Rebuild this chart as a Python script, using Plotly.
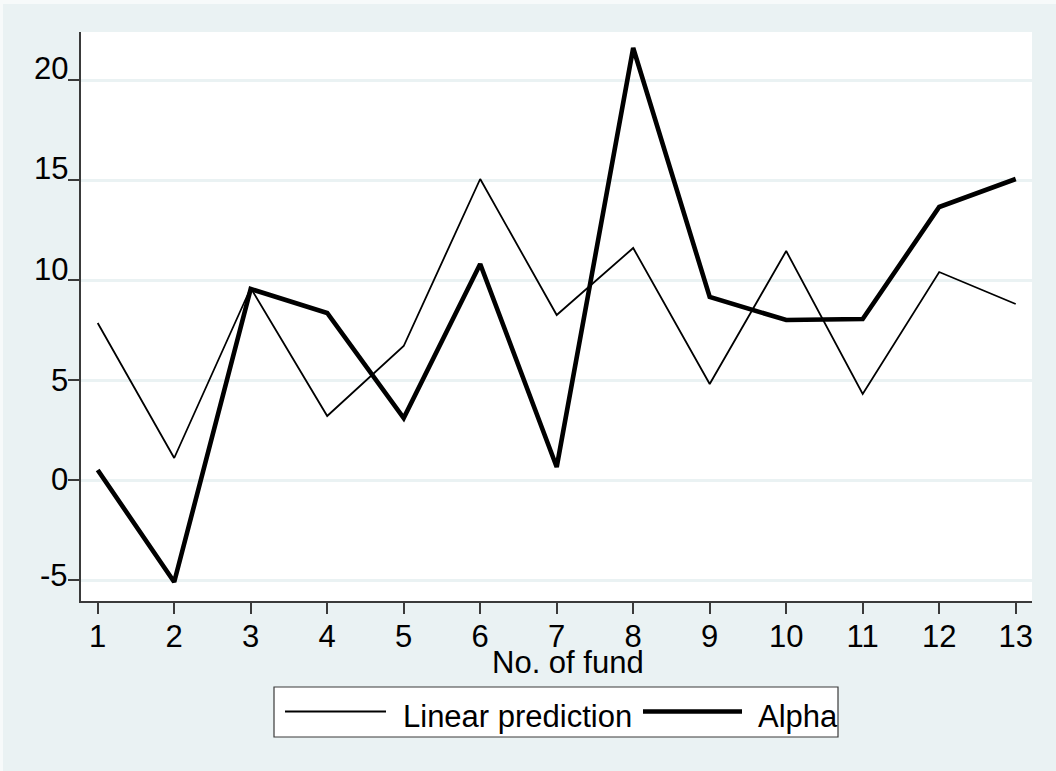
import plotly.graph_objects as go

# ---- data -------------------------------------------------------------
funds = list(range(1, 14))
linear_prediction = [7.85, 1.1, 9.6, 3.2, 6.7, 15.05, 8.25, 11.6, 4.8, 11.45, 4.3, 10.4, 8.8]
alpha = [0.5, -5.1, 9.55, 8.35, 3.1, 10.8, 0.65, 21.6, 9.15, 8.0, 8.05, 13.65, 15.05]
series_names = ["Linear prediction", "Alpha"]
y_ticks = [-5, 0, 5, 10, 15, 20]
y_tick_text = ["-5", "0", "5", "10", "15", "20"]
x_title = "No. of fund"

# ---- geometry / style -------------------------------------------------
W, H = 1056, 771
M_L, M_R, M_T, M_B = 81, 24, 32, 170
PLOT_W = W - M_L - M_R
PLOT_H = H - M_T - M_B

BG = "#EAF2F3"
AXIS = "#3a3a3a"
FONT = "Liberation Sans, Arial, Helvetica, sans-serif"
TICK_FS = 31
TEXT_FS = 31
THIN, THICK = 1.8, 4.6
# vertical nudges (px) of the y tick labels, same order as y_tick_text
y_label_lift = [5, 1, 0, 11, 12, 12]


def px_x(px):
    return (px - M_L) / PLOT_W


def px_y(py):
    return (H - M_B - py) / PLOT_H


fig = go.Figure()
fig.add_trace(go.Scatter(x=funds, y=linear_prediction, mode="lines",
                         name=series_names[0],
                         line=dict(color="black", width=THIN)))
fig.add_trace(go.Scatter(x=funds, y=alpha, mode="lines",
                         name=series_names[1],
                         line=dict(color="black", width=THICK)))

shapes = [
    # thin light border of the graph region
    dict(type="rect", xref="paper", yref="paper",
         x0=px_x(0), x1=px_x(W), y0=px_y(0), y1=px_y(4),
         fillcolor="#F7FAFA", line=dict(width=0), layer="above"),
    dict(type="rect", xref="paper", yref="paper",
         x0=px_x(0), x1=px_x(3), y0=px_y(0), y1=px_y(H),
         fillcolor="#F7FAFA", line=dict(width=0), layer="above"),
    # legend box
    dict(type="rect", xref="paper", yref="paper",
         x0=px_x(274), x1=px_x(838), y0=px_y(687), y1=px_y(737),
         fillcolor="white", line=dict(color=AXIS, width=1.2), layer="above"),
    # legend keys
    dict(type="line", xref="paper", yref="paper",
         x0=px_x(285), x1=px_x(386), y0=px_y(711.5), y1=px_y(711.5),
         line=dict(color="black", width=THIN), layer="above"),
    dict(type="line", xref="paper", yref="paper",
         x0=px_x(643), x1=px_x(742), y0=px_y(711.5), y1=px_y(711.5),
         line=dict(color="black", width=THICK), layer="above"),
]

annotations = []
# y tick labels
for val, txt, lift in zip(y_ticks, y_tick_text, y_label_lift):
    annotations.append(dict(
        x=0, xref="paper", y=val, yref="y", text=txt, showarrow=False,
        xanchor="right", yanchor="middle", xshift=-11, yshift=lift,
        font=dict(family=FONT, size=TICK_FS, color="black")))
# x axis title
annotations.append(dict(
    x=px_x(568), xref="paper", y=px_y(662), yref="paper", text=x_title,
    showarrow=False, xanchor="center", yanchor="middle",
    font=dict(family=FONT, size=TEXT_FS, color="black")))
# legend labels
annotations.append(dict(
    x=px_x(401), xref="paper", y=px_y(716), yref="paper", text=series_names[0],
    showarrow=False, xanchor="left", yanchor="middle",
    font=dict(family=FONT, size=TEXT_FS, color="black")))
annotations.append(dict(
    x=px_x(756), xref="paper", y=px_y(716), yref="paper", text=series_names[1],
    showarrow=False, xanchor="left", yanchor="middle",
    font=dict(family=FONT, size=TEXT_FS, color="black")))

fig.update_layout(
    width=W, height=H, autosize=False,
    margin=dict(l=M_L, r=M_R, t=M_T, b=M_B, pad=0),
    paper_bgcolor=BG, plot_bgcolor="white",
    showlegend=False,
    font=dict(family=FONT, size=TICK_FS, color="black"),
    shapes=shapes, annotations=annotations,
)
fig.update_xaxes(
    range=[0.7817, 13.213], tickmode="array", tickvals=funds,
    ticktext=[str(f) for f in funds],
    showgrid=False, zeroline=False,
    showline=True, linecolor=AXIS, linewidth=2,
    ticks="outside", ticklen=11, tickwidth=1.5, tickcolor=AXIS,
    ticklabelstandoff=-4,
    tickfont=dict(family=FONT, size=TICK_FS, color="black"),
)
fig.update_yaxes(
    range=[-6.05, 22.4], tickmode="array", tickvals=y_ticks,
    showticklabels=False,
    showgrid=True, gridcolor=BG, gridwidth=2.5, zeroline=False,
    showline=True, linecolor=AXIS, linewidth=2,
    ticks="outside", ticklen=11, tickwidth=1.5, tickcolor=AXIS,
)

fig.write_html("out.html")
